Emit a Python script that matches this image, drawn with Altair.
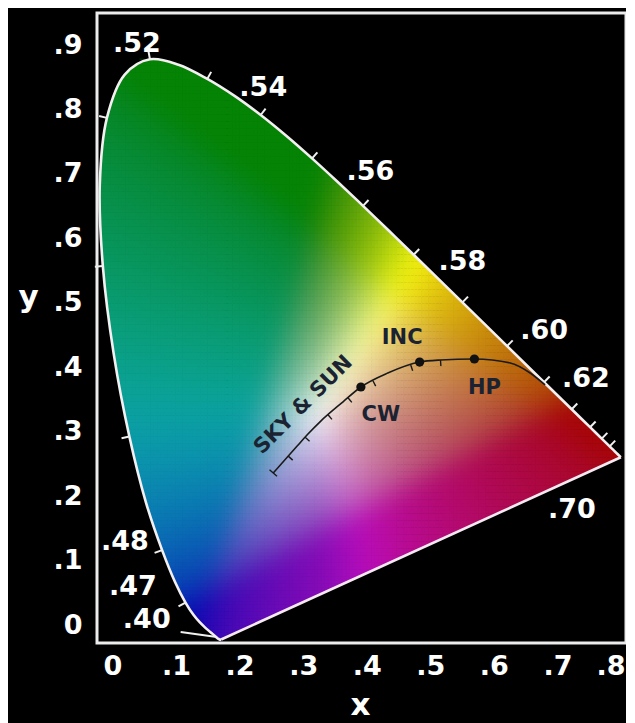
import numpy as np
import pandas as pd
import altair as alt

# ---------------- data ----------------
# CIE 1931 spectral locus (wavelength nm, x, y)
wl = [380, 385, 390, 395, 400, 405, 410, 415, 420, 425, 430, 435, 440, 445, 450, 455, 460, 465,
      470, 475, 480, 485, 490, 495, 500, 505, 510, 515, 520, 525, 530, 535, 540, 545, 550, 555,
      560, 565, 570, 575, 580, 585, 590, 595, 600, 605, 610, 615, 620, 625, 630, 635, 640, 645,
      650, 655, 660, 665, 670, 675, 680, 690, 700]
loc_x = [0.1741, 0.1740, 0.1738, 0.1736, 0.1733, 0.1730, 0.1726, 0.1721, 0.1714, 0.1703, 0.1689,
         0.1669, 0.1644, 0.1611, 0.1566, 0.1510, 0.1440, 0.1355, 0.1241, 0.1096, 0.0913, 0.0687,
         0.0454, 0.0235, 0.0082, 0.0039, 0.0139, 0.0389, 0.0743, 0.1142, 0.1547, 0.1929, 0.2296,
         0.2658, 0.3016, 0.3373, 0.3731, 0.4087, 0.4441, 0.4788, 0.5125, 0.5448, 0.5752, 0.6029,
         0.6270, 0.6482, 0.6658, 0.6801, 0.6915, 0.7006, 0.7079, 0.7140, 0.7190, 0.7230, 0.7260,
         0.7283, 0.7300, 0.7311, 0.7320, 0.7327, 0.7334, 0.7344, 0.7347]
loc_y = [0.0050, 0.0050, 0.0049, 0.0049, 0.0048, 0.0048, 0.0048, 0.0048, 0.0051, 0.0058, 0.0069,
         0.0086, 0.0109, 0.0138, 0.0177, 0.0227, 0.0297, 0.0399, 0.0578, 0.0868, 0.1327, 0.2007,
         0.2950, 0.4127, 0.5384, 0.6548, 0.7502, 0.8120, 0.8338, 0.8262, 0.8059, 0.7816, 0.7543,
         0.7243, 0.6923, 0.6589, 0.6245, 0.5896, 0.5547, 0.5202, 0.4866, 0.4544, 0.4242, 0.3965,
         0.3725, 0.3514, 0.3340, 0.3197, 0.3083, 0.2993, 0.2920, 0.2859, 0.2809, 0.2770, 0.2740,
         0.2717, 0.2700, 0.2689, 0.2680, 0.2673, 0.2666, 0.2656, 0.2653]

tick_wl = [470, 480, 490, 500, 510, 520, 530, 540, 550, 560, 570, 580, 590, 600, 610, 620, 630, 640]

wl_text = [".52", ".54", ".56", ".58", ".60", ".62", ".70", ".48", ".47", ".40"]
wl_text_x = [0.0559, 0.2332, 0.3834, 0.5126, 0.6271, 0.6858, 0.6662, 0.0391, 0.0503, 0.0698]
wl_text_y = [0.8557, 0.7929, 0.6729, 0.5443, 0.4457, 0.3771, 0.1900, 0.1443, 0.0800, 0.0329]

leader_x = [0.1173, 0.1680]
leader_y = [0.0157, 0.0086]

# "sky & sun" curve
curve_x = [0.2472, 0.2807, 0.2952, 0.3135, 0.3451, 0.3701, 0.4078, 0.4525, 0.4818, 0.5293,
           0.5796, 0.6075, 0.6285]
curve_y = [0.2429, 0.2813, 0.2978, 0.3167, 0.3446, 0.3657, 0.3857, 0.4014, 0.4043, 0.4057,
           0.4000, 0.3857, 0.3686]
ctick_x = [0.2682, 0.2919, 0.3240, 0.3520, 0.3870, 0.4400, 0.4818]

src_name = ["CW", "INC", "HP"]
src_x = [0.3701, 0.4525, 0.5293]
src_y = [0.3657, 0.4014, 0.4057]

ann_text = ["CW", "INC", "HP", "SKY & SUN"]
ann_x = [0.3980, 0.4280, 0.5433, 0.2895]
ann_y = [0.3257, 0.4357, 0.3643, 0.3400]
ann_angle = [0, 0, 0, 315]

x_tick_vals = [0.1, 0.2, 0.3, 0.4, 0.5, 0.6, 0.7]
y_tick_vals = [0.1, 0.2, 0.3, 0.4, 0.5, 0.6, 0.7, 0.8]
x_label_vals = [0.0, 0.1, 0.2, 0.3, 0.4, 0.5, 0.6, 0.7, 0.8]
y_label_vals = [0.0, 0.1, 0.2, 0.3, 0.4, 0.5, 0.6, 0.7, 0.8, 0.9]

# ---------------- geometry ----------------
PAD_L = 89
W, H = 529, 630
XMAX = W / 713.0
YMAX = 0.9
PX = W / XMAX   # pixels per x unit
PY = H / YMAX   # pixels per y unit

lx = np.array(loc_x)
ly = np.array(loc_y)

# colour field cells
step = 0.005
cxs = np.arange(step / 2, XMAX, step)
cys = np.arange(step / 2, YMAX, step)
CX, CY = np.meshgrid(cxs, cys)


def inside(px, py):
    res = np.zeros(px.shape, bool)
    n = len(lx)
    j = n - 1
    with np.errstate(divide="ignore", invalid="ignore"):
        for i in range(n):
            xi, yi, xj, yj = lx[i], ly[i], lx[j], ly[j]
            cond = ((yi > py) != (yj > py)) & (px < (xj - xi) * (py - yi) / (yj - yi) + xi)
            res ^= cond
            j = i
    return res


h = 0.8 * step
keep = np.zeros(CX.shape, bool)
for ox, oy in [(0, 0), (h, h), (h, -h), (-h, h), (-h, -h)]:
    keep |= inside(CX + ox, CY + oy)

# chromaticity -> display colour on the full grid
Xc = CX / CY
Zc = (1 - CX - CY) / CY
r = 3.2406 * Xc - 1.5372 - 0.4986 * Zc
g = -0.9689 * Xc + 1.8758 + 0.0415 * Zc
b = 0.0557 * Xc - 0.2040 + 1.0570 * Zc
rgb = np.clip(np.stack([r, g, b], -1), 0, None)
rgb = rgb / np.maximum(rgb.max(-1, keepdims=True), 1e-9)
R, G, B = rgb[..., 0].copy(), rgb[..., 1].copy(), rgb[..., 2].copy()
# widen yellow, shift magenta toward violet
G = G + (np.power(G, 0.7) - G) * np.clip(R - B, 0, 1)
mag = np.clip(np.minimum(R, B) - G, 0, 1)
R = R - 0.5 * mag
rgb = np.stack([R, G, B], -1)
f = ((1 - 0.45 * np.clip(G - np.maximum(R, B), 0, 1))
     * (1 - 0.3 * np.clip(R - np.maximum(G, B), 0, 1))
     * (1 - 0.25 * np.clip(B - np.maximum(R, G), 0, 1))
     * (1 - 0.35 * np.clip(np.minimum(G, B) - R, 0, 1))
     * (1 - 0.15 * mag))
enc = np.where(rgb <= 0.0031308, 12.92 * rgb, 1.055 * np.power(rgb, 1 / 2.4) - 0.055)
enc = enc * f[..., None]
enc = enc * 0.9 + 0.1 * enc.mean(-1, keepdims=True)

# soften the field
sig = 3.5
kk = np.arange(-int(3 * sig), int(3 * sig) + 1)
kern = np.exp(-0.5 * (kk / sig) ** 2)
kern /= kern.sum()
pad = len(kk) // 2
for ax in (0, 1):
    padw = [(0, 0)] * 3
    padw[ax] = (pad, pad)
    a = np.pad(enc, padw, mode="edge")
    out = np.zeros_like(enc)
    n_ax = enc.shape[ax]
    for i, kv in enumerate(kern):
        sl = [slice(None)] * 3
        sl[ax] = slice(i, i + n_ax)
        out += kv * a[tuple(sl)]
    enc = out

enc = np.clip(np.round(enc * 255), 0, 255).astype(int)[keep]
hexes = ["#%02x%02x%02x" % tuple(c) for c in enc]
cells = pd.DataFrame({"cx": np.round(CX[keep], 4), "cy": np.round(CY[keep], 4), "c": hexes})

# masks (outside of the locus)
i420 = wl.index(420)
i520 = wl.index(520)
maskA = pd.DataFrame({"y": [0.0] + loc_y[i420:i520 + 1],
                      "x": [loc_x[0]] + loc_x[i420:i520 + 1]})
maskA["x0"] = 0.0
maskB = pd.DataFrame({"x": [0.0] + loc_x[i520:] + [XMAX],
                      "y": [loc_y[i520]] + loc_y[i520:] + [loc_y[-1]]})
maskB["y1"] = YMAX
maskC = pd.DataFrame({"x": [loc_x[0], loc_x[-1], XMAX], "y": [loc_y[0], loc_y[-1], loc_y[-1]]})
maskC["y0"] = 0.0

# spectral curve and line of purples
locus = pd.DataFrame({"i": list(range(len(wl))), "x": loc_x, "y": loc_y})
purple = pd.DataFrame({"i": [0, 1], "x": [loc_x[-1], loc_x[0]], "y": [loc_y[-1], loc_y[0]]})

# locus ticks (outward normal)
tl = 8.0
rows = []
for w_ in tick_wl:
    k = wl.index(w_)
    dx = (lx[k + 1] - lx[k - 1]) * PX
    dy = (ly[k + 1] - ly[k - 1]) * PY
    n = np.hypot(dx, dy)
    nx, ny = -dy / n, dx / n
    rows.append({"x": lx[k], "y": ly[k], "x2": lx[k] + nx * tl / PX, "y2": ly[k] + ny * tl / PY})
locus_ticks = pd.DataFrame(rows)

leader = pd.DataFrame({"x": [leader_x[0]], "y": [leader_y[0]], "x2": [leader_x[1]], "y2": [leader_y[1]]})

curve = pd.DataFrame({"x": curve_x, "y": curve_y})

cxa = np.array(curve_x)
cya = np.array(curve_y)
rows = []
ct = 6.0
for tx in ctick_x:
    ty = float(np.interp(tx, cxa, cya))
    e = 0.006
    dx = 2 * e * PX
    dy = (np.interp(tx + e, cxa, cya) - np.interp(tx - e, cxa, cya)) * PY
    n = np.hypot(dx, dy)
    nx, ny = dy / n, -dx / n
    rows.append({"x": tx, "y": ty, "x2": tx + nx * ct / PX, "y2": ty + ny * ct / PY})
# end cap at the start of the curve
dx = (cxa[1] - cxa[0]) * PX
dy = (cya[1] - cya[0]) * PY
n = np.hypot(dx, dy)
nx, ny = dy / n, -dx / n
rows.append({"x": cxa[0] - nx * 5 / PX, "y": cya[0] - ny * 5 / PY,
             "x2": cxa[0] + nx * 5 / PX, "y2": cya[0] + ny * 5 / PY})
curve_ticks = pd.DataFrame(rows)

sources = pd.DataFrame({"name": src_name, "x": src_x, "y": src_y})
ann = pd.DataFrame({"t": ann_text, "x": ann_x, "y": ann_y, "a": ann_angle})
wlab = pd.DataFrame({"t": wl_text, "x": wl_text_x, "y": wl_text_y})
frame = pd.DataFrame({"x0": [0.0], "x1": [XMAX], "y0": [0.0], "y1": [YMAX]})

# ---------------- chart ----------------
xsc = alt.Scale(domain=[0, XMAX], nice=False, zero=False)
ysc = alt.Scale(domain=[0, YMAX], nice=False, zero=False)
FONT = "DejaVu Sans"


def tick_axis(orient, vals):
    return alt.Axis(orient=orient, values=vals, labels=False, domain=False, grid=False,
                    ticks=True, tickSize=8, tickWidth=2, tickColor="#ececec", offset=-8, title=None)


cell_layer = alt.Chart(cells).mark_rect(strokeWidth=0).transform_calculate(
    x0=f"datum.cx - {0.6 * step}", x1=f"datum.cx + {0.6 * step}",
    y0=f"datum.cy - {0.6 * step}", y1=f"datum.cy + {0.6 * step}",
).encode(
    x=alt.X("x0:Q", scale=xsc, axis=tick_axis("bottom", x_tick_vals)),
    x2="x1:Q",
    y=alt.Y("y0:Q", scale=ysc, axis=tick_axis("left", y_tick_vals)),
    y2="y1:Q",
    color=alt.Color("c:N", scale=None),
)

mA = alt.Chart(maskA).mark_area(color="black", orient="horizontal", interpolate="catmull-rom").encode(
    y=alt.Y("y:Q", scale=ysc, axis=None), x=alt.X("x:Q", scale=xsc, axis=None), x2="x0:Q")
mB = alt.Chart(maskB).mark_area(color="black", interpolate="catmull-rom").encode(
    x=alt.X("x:Q", scale=xsc, axis=None), y=alt.Y("y:Q", scale=ysc, axis=None), y2="y1:Q")
mC = alt.Chart(maskC).mark_area(color="black").encode(
    x=alt.X("x:Q", scale=xsc, axis=None), y=alt.Y("y:Q", scale=ysc, axis=None), y2="y0:Q")

locus_line = alt.Chart(locus).mark_line(color="#f4f0f2", strokeWidth=2.6, interpolate="catmull-rom").encode(
    x=alt.X("x:Q", scale=xsc, axis=None), y=alt.Y("y:Q", scale=ysc, axis=None), order="i:Q")
purple_line = alt.Chart(purple).mark_line(color="#f6eaf2", strokeWidth=2.6).encode(
    x=alt.X("x:Q", scale=xsc, axis=None), y=alt.Y("y:Q", scale=ysc, axis=None), order="i:Q")

lt = alt.Chart(locus_ticks).mark_rule(color="#f0f0f0", strokeWidth=2).encode(
    x=alt.X("x:Q", scale=xsc, axis=None), y=alt.Y("y:Q", scale=ysc, axis=None),
    x2="x2:Q", y2="y2:Q")

ld = alt.Chart(leader).mark_rule(color="#f0f0f0", strokeWidth=2).encode(
    x=alt.X("x:Q", scale=xsc, axis=None), y=alt.Y("y:Q", scale=ysc, axis=None),
    x2="x2:Q", y2="y2:Q")

cl = alt.Chart(curve).mark_line(color="#1a1a1a", strokeWidth=1.6, interpolate="monotone").encode(
    x=alt.X("x:Q", scale=xsc, axis=None), y=alt.Y("y:Q", scale=ysc, axis=None))

ctk = alt.Chart(curve_ticks).mark_rule(color="#1a1a1a", strokeWidth=1.4).encode(
    x=alt.X("x:Q", scale=xsc, axis=None), y=alt.Y("y:Q", scale=ysc, axis=None),
    x2="x2:Q", y2="y2:Q")

dots = alt.Chart(sources).mark_circle(color="#111111", opacity=1, size=85).encode(
    x=alt.X("x:Q", scale=xsc, axis=None), y=alt.Y("y:Q", scale=ysc, axis=None))

ann_layer = alt.Chart(ann).mark_text(font=FONT, fontWeight="bold", fontSize=21, color="#1b2333",
                                     align="center", baseline="middle").encode(
    x=alt.X("x:Q", scale=xsc, axis=None), y=alt.Y("y:Q", scale=ysc, axis=None),
    text="t:N", angle=alt.Angle("a:Q", scale=None))

wl_layer = alt.Chart(wlab).mark_text(font=FONT, fontWeight="bold", fontSize=27, color="white",
                                     align="center", baseline="middle").encode(
    x=alt.X("x:Q", scale=xsc, axis=None), y=alt.Y("y:Q", scale=ysc, axis=None), text="t:N")

frame_layer = alt.Chart(frame).mark_rect(fill=None, stroke="#ececec", strokeWidth=3).encode(
    x=alt.X("x0:Q", scale=xsc, axis=tick_axis("top", x_tick_vals)),
    x2="x1:Q",
    y=alt.Y("y0:Q", scale=ysc, axis=tick_axis("right", y_tick_vals)),
    y2="y1:Q",
)

main = alt.layer(cell_layer, mA, mB, mC, locus_line, purple_line, lt, ld, cl, ctk, dots,
                 ann_layer, wl_layer, frame_layer).resolve_axis(x="independent", y="independent")

# label axes (evenly spaced labels as in the original figure)
X0PAGE = 8 + PAD_L
XL0, XL1 = -(112.5 - X0PAGE) / 635.6, (W - (112.5 - X0PAGE)) / 635.6
YL0, YL1 = (612 - H) / 644.4, 612 / 644.4
lab_expr = "datum.value == 0 ? '0' : replace(format(datum.value, '.1f'), '0.', '.')"

xlab = alt.Chart(pd.DataFrame({"v": x_label_vals})).mark_point(opacity=0).encode(
    x=alt.X("v:Q", scale=alt.Scale(domain=[XL0, XL1], nice=False, zero=False),
            axis=alt.Axis(orient="bottom", values=x_label_vals, ticks=False, tickSize=0,
                          domain=False, grid=False, labelExpr=lab_expr, labelFont=FONT,
                          labelFontWeight="bold", labelFontSize=27, labelColor="white",
                          labelPadding=10, labelOverlap=False, labelFlush=10, labelFlushOffset=4,
                          title="x", titleFont=FONT, titleFontWeight="bold", titleFontSize=31,
                          titleColor="white", titleX=360 - X0PAGE, titleY=71, titleAlign="center",
                          titleBaseline="alphabetic", titleAngle=0)))

ylab = alt.Chart(pd.DataFrame({"v": y_label_vals})).mark_point(opacity=0).encode(
    y=alt.Y("v:Q", scale=alt.Scale(domain=[YL0, YL1], nice=False, zero=False),
            axis=alt.Axis(orient="left", values=y_label_vals, ticks=False, tickSize=0,
                          domain=False, grid=False, labelExpr=lab_expr, labelFont=FONT,
                          labelFontWeight="bold", labelFontSize=27, labelColor="white",
                          labelPadding=X0PAGE - 82, labelOverlap=False, labelFlush=False,
                          title="y", titleFont=FONT, titleFontWeight="bold", titleFontSize=31,
                          titleColor="white", titleX=28 - X0PAGE, titleY=293, titleAlign="center",
                          titleBaseline="alphabetic", titleAngle=0)))

chart = alt.layer(main, xlab, ylab).resolve_scale(x="independent", y="independent").properties(
    width=W, height=H,
    autosize=alt.AutoSizeParams(type="none"),
    padding={"left": PAD_L, "top": 5, "right": 0, "bottom": 80},
).configure(background="black").configure_view(stroke=None)

chart.save("out.html", embed_options={"renderer": "svg", "actions": False})
